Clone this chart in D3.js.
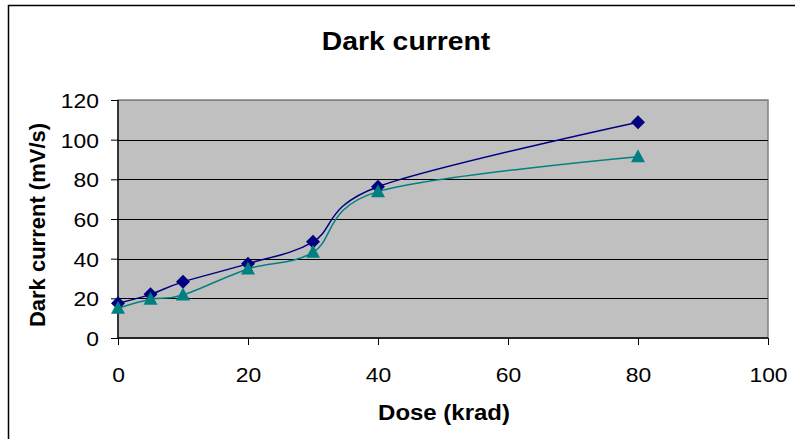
<!DOCTYPE html>
<html lang="en">
  <head>
    <meta charset="utf-8" />
    <title>Dark current</title>
    <script src="https://d3js.org/d3.v7.min.js"></script>
    <style>
      body { margin: 0; background: #fff; }
      text { font-family: "Liberation Sans", Arial, sans-serif; }
    </style>
  </head>
  <body>
    <script>
      // data
      const dose = [0, 5, 10, 20, 30, 40, 80];
      const seriesA = [17.5, 22, 28.3, 37.5, 48.5, 76.3, 108.8];
      const seriesB = [15, 19.5, 21.7, 34.8, 43.2, 73.8, 91.4];
      const xTicks = [0, 20, 40, 60, 80, 100];
      const yTicks = [0, 20, 40, 60, 80, 100, 120];

      const W = 795, H = 439;
      const plot = { left: 118, right: 768, top: 100, bottom: 338 };
      const STRETCH = 1.09; // the source picture is a bit wider than tall

      const svg = d3.select("body").append("svg")
        .attr("width", W).attr("height", H);

      // outer chart frame (only top and left edges visible)
      svg.append("rect")
        .attr("x", 8.5).attr("y", 5.5)
        .attr("width", W).attr("height", H)
        .attr("fill", "none").attr("stroke", "#000").attr("stroke-width", 1.5);

      const x = d3.scaleLinear().domain([0, 100]).range([plot.left, plot.right]);
      const y = d3.scaleLinear().domain([0, 120]).range([plot.bottom, plot.top]);

      // plot area background
      svg.append("rect")
        .attr("x", plot.left).attr("y", plot.top)
        .attr("width", plot.right - plot.left)
        .attr("height", plot.bottom - plot.top)
        .attr("fill", "#c0c0c0")
        .attr("stroke", "#808080").attr("stroke-width", 1.5);

      // gridlines
      svg.append("g").selectAll("line")
        .data(yTicks.slice(1))
        .join("line")
        .attr("x1", plot.left).attr("x2", plot.right)
        .attr("y1", d => Math.round(y(d)) + 0.5)
        .attr("y2", d => Math.round(y(d)) + 0.5)
        .attr("stroke", d => d === 120 ? "#808080" : "#000")
        .attr("stroke-width", 1.2);

      // axes
      const yAxis = svg.append("g")
        .attr("transform", `translate(${plot.left},0)`)
        .call(d3.axisLeft(y).tickValues(yTicks).tickSize(7).tickPadding(0));
      const xAxis = svg.append("g")
        .attr("transform", `translate(0,${plot.bottom})`)
        .call(d3.axisBottom(x).tickValues(xTicks).tickSize(7).tickPadding(0));

      [yAxis, xAxis].forEach(g => {
        g.select(".domain").attr("stroke", "#000").attr("stroke-width", 1.3);
        g.selectAll(".tick line").attr("stroke", "#000");
        g.selectAll(".tick text")
          .attr("fill", "#000")
          .style("font-size", "21px")
          .style("font-family", "'Liberation Sans', Arial, sans-serif");
      });
      yAxis.selectAll(".tick text")
        .attr("x", 0).attr("dy", "0.35em")
        .attr("transform", `translate(-19,0) scale(${STRETCH},1)`);
      xAxis.selectAll(".tick text")
        .attr("y", 0).attr("dy", null)
        .attr("transform", `translate(0,44) scale(${STRETCH},1)`);
      xAxis.select(".domain").attr("d", `M${plot.left},0H${plot.right}`);
      yAxis.select(".domain").attr("d", `M0,${plot.bottom}V${plot.top}`);

      // lines (Excel-style smoothed)
      const line = d3.line()
        .x((d, i) => x(dose[i]))
        .y(d => y(d))
        .curve(d3.curveCatmullRom.alpha(0));

      svg.append("path")
        .attr("d", line(seriesB))
        .attr("fill", "none").attr("stroke", "#008080").attr("stroke-width", 1.5);
      svg.append("path")
        .attr("d", line(seriesA))
        .attr("fill", "none").attr("stroke", "#000080").attr("stroke-width", 1.5);

      // markers
      svg.append("g").selectAll("path")
        .data(seriesA)
        .join("path")
        .attr("transform", (d, i) => `translate(${x(dose[i])},${y(d)})`)
        .attr("d", "M0,-7L7,0L0,7L-7,0Z")
        .attr("fill", "#000080");

      svg.append("g").selectAll("path")
        .data(seriesB)
        .join("path")
        .attr("transform", (d, i) => `translate(${x(dose[i])},${y(d)})`)
        .attr("d", "M0,-7.5L7,5.5L-7,5.5Z")
        .attr("fill", "#008080");

      // titles
      svg.append("text")
        .attr("transform", `translate(406,50) scale(${STRETCH},1)`)
        .attr("text-anchor", "middle")
        .style("font-size", "26px").style("font-weight", "bold")
        .text("Dark current");

      svg.append("text")
        .attr("transform", `translate(444,420) scale(${STRETCH},1)`)
        .attr("text-anchor", "middle")
        .style("font-size", "22px").style("font-weight", "bold")
        .text("Dose (krad)");

      svg.append("text")
        .attr("transform", "translate(45,225) rotate(-90)")
        .attr("text-anchor", "middle")
        .style("font-size", "22px").style("font-weight", "bold")
        .text("Dark current (mV/s)");
    </script>
  </body>
</html>
